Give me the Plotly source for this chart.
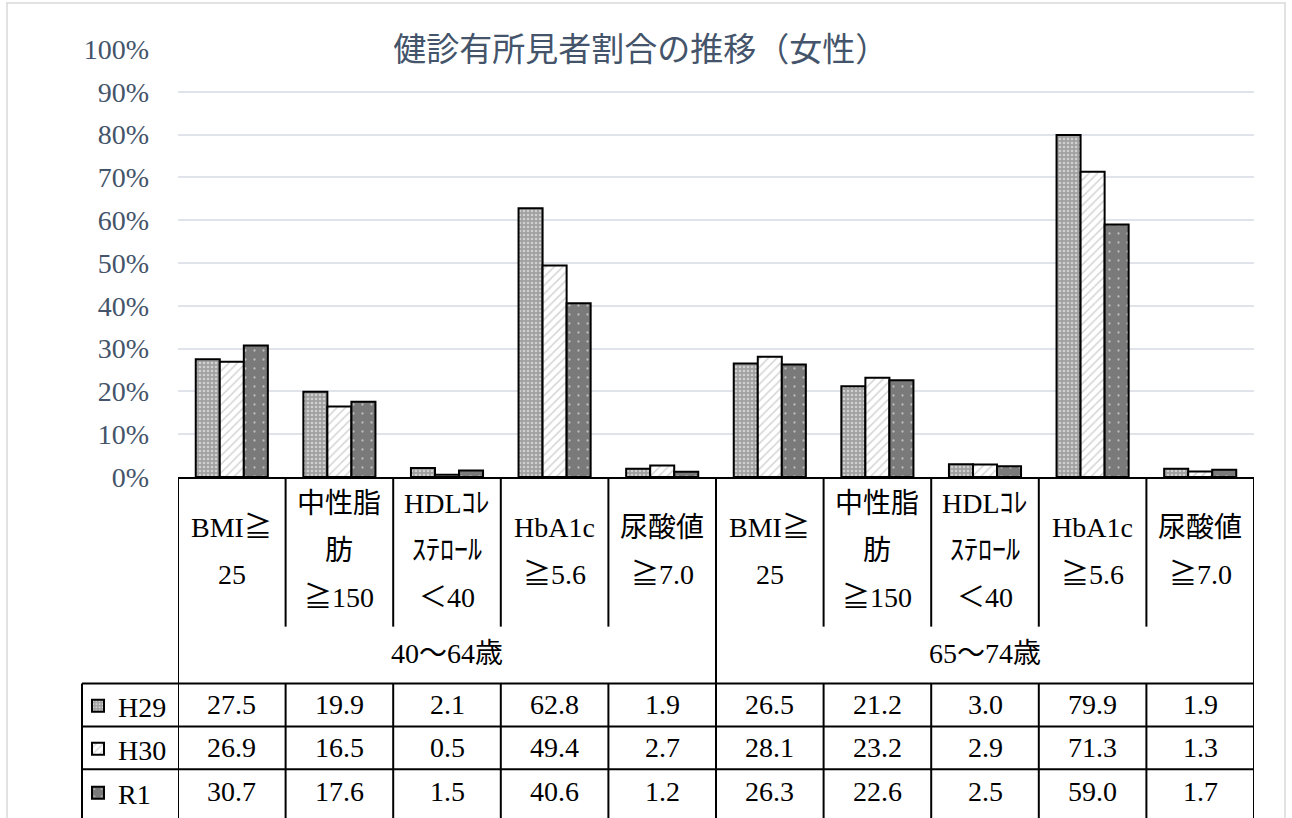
import plotly.graph_objects as go

# ---------------- data ----------------
category_lines = [["BMI≧", "25"], ["中性脂", "肪", "≧150"], ["HDLｺﾚ", "ｽﾃﾛｰﾙ", "＜40"],
                  ["HbA1c", "≧5.6"], ["尿酸値", "≧7.0"]]
age_groups = ["40～64歳", "65～74歳"]
series_names = ["H29", "H30", "R1"]
h29 = [27.5, 19.9, 2.1, 62.8, 1.9, 26.5, 21.2, 3.0, 79.9, 1.9]
h30 = [26.9, 16.5, 0.5, 49.4, 2.7, 28.1, 23.2, 2.9, 71.3, 1.3]
r1 = [30.7, 17.6, 1.5, 40.6, 1.2, 26.3, 22.6, 2.5, 59.0, 1.7]
y_ticks = list(range(0, 101, 10))
y_tick_text = [f"{v}%" for v in y_ticks]
title_text = "健診有所見者割合の推移（女性）"

# ---------------- layout helpers ----------------
W, H = 1292, 828
L, R, T, B = 178, 38, 49, 350
PW, PH = W - L - R, H - T - B
n_cat = len(h29)
n_grp = len(category_lines)
xs = list(range(n_cat))
Y0 = T + PH  # pixel of y=0


def py(p):
    return (Y0 - p) / PH


def px(p):
    return (p - L) / PW


SERIF = "Liberation Serif, Noto Sans CJK JP, serif"
FS = 28
INK = "#44546A"

styles = [
    dict(color="#a0a0a0", pattern=dict(shape=".", bgcolor="#a0a0a0", fgcolor="white", size=4, solidity=0.35)),
    dict(color="white", pattern=dict(shape="/", bgcolor="white", fgcolor="#a8a8a8", size=6, solidity=0.25)),
    dict(color="#7a7a7a", pattern=dict(shape=".", bgcolor="#7a7a7a", fgcolor="white", size=9, solidity=0.05)),
]
row_y = [706, 749, 793]
legend_ids = ["legend", "legend2", "legend3"]

fig = go.Figure()
for name, vals, st, lid in zip(series_names, [h29, h30, r1], styles, legend_ids):
    fig.add_trace(go.Bar(
        x=xs, y=vals, name=name, legend=lid,
        marker=dict(color=st["color"], pattern=st["pattern"], line=dict(color="black", width=2)),
    ))

shapes = []
LW = 2
# outer frame
shapes.append(dict(type="rect", xref="paper", yref="paper", x0=px(7), x1=px(1285), y0=py(840), y1=py(3),
                   line=dict(color="#d9d9d9", width=1.5), layer="below"))
# vertical dividers
for k in range(n_cat + 1):
    xb = k - 0.5
    if k % n_grp == 0:
        shapes.append(dict(type="line", xref="x", yref="paper", x0=xb, x1=xb, y0=py(Y0), y1=py(830),
                           line=dict(color="black", width=LW)))
    else:
        shapes.append(dict(type="line", xref="x", yref="paper", x0=xb, x1=xb, y0=py(Y0), y1=py(628),
                           line=dict(color="black", width=LW)))
        shapes.append(dict(type="line", xref="x", yref="paper", x0=xb, x1=xb, y0=py(685), y1=py(830),
                           line=dict(color="black", width=LW)))
# left column of table
shapes.append(dict(type="line", xref="paper", yref="paper", x0=px(82), x1=px(82), y0=py(685), y1=py(830),
                   line=dict(color="black", width=LW)))
for yy in [685, 728, 771]:
    shapes.append(dict(type="line", xref="paper", yref="paper", x0=px(82), x1=1, y0=py(yy), y1=py(yy),
                       line=dict(color="black", width=LW)))

annotations = []
# category labels
for i in xs:
    lines = category_lines[i % n_grp]
    n = len(lines)
    for k, t in enumerate(lines):
        yy = 552 + (k - (n - 1) / 2) * 47
        annotations.append(dict(x=i, xref="x", y=py(yy), yref="paper", text=t, showarrow=False,
                                yanchor="middle", xanchor="center",
                                font=dict(family=SERIF, size=FS, color="black")))
# age group labels
for g, lab in enumerate(age_groups):
    cx = g * n_grp + (n_grp - 1) / 2
    annotations.append(dict(x=cx, xref="x", y=py(655), yref="paper", text=lab, showarrow=False,
                            yanchor="middle", font=dict(family=SERIF, size=FS, color="black")))
# data table values
for r, vals in enumerate([h29, h30, r1]):
    for i, v in enumerate(vals):
        annotations.append(dict(x=i, xref="x", y=py(row_y[r]), yref="paper", text=f"{v:.1f}",
                                showarrow=False, yanchor="middle",
                                font=dict(family=SERIF, size=FS, color="black")))

legend_layouts = {}
for lid, yy in zip(legend_ids, row_y):
    legend_layouts[lid] = dict(x=px(78), xanchor="left", y=py(yy), yanchor="middle",
                               bgcolor="rgba(0,0,0,0)", itemwidth=30,
                               font=dict(family=SERIF, size=FS, color="black"))

fig.update_layout(
    width=W, height=H,
    margin=dict(l=L, r=R, t=T, b=B),
    paper_bgcolor="white", plot_bgcolor="white",
    barmode="group", bargap=0.33, bargroupgap=0,
    title=dict(text=title_text, x=0.496, xanchor="center", y=1 - 49 / H, yanchor="middle",
               font=dict(family="Noto Sans CJK JP", size=33, color=INK)),
    xaxis=dict(range=[-0.5, n_cat - 0.5], showticklabels=False, showgrid=False, zeroline=False,
               showline=True, linecolor="black", linewidth=2, ticks=""),
    yaxis=dict(range=[0, 100], tickvals=y_ticks, ticktext=y_tick_text, showgrid=True, gridcolor="#e0e4ea",
               gridwidth=1.5, zeroline=False, showline=False, ticks="", ticklabelstandoff=28,
               tickfont=dict(family=SERIF, size=FS, color=INK)),
    showlegend=True,
    shapes=shapes,
    annotations=annotations,
    **legend_layouts,
)

fig.write_html("out.html")
